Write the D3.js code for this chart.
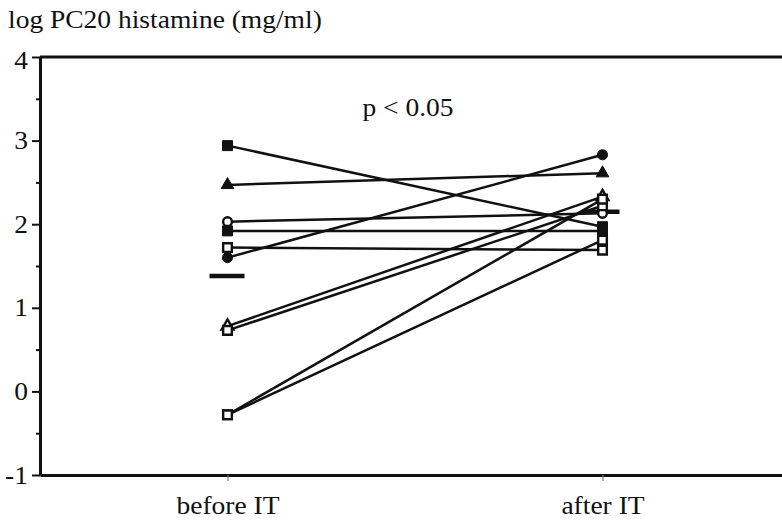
<!DOCTYPE html>
<html>
<head>
<meta charset="utf-8">
<script src="https://cdn.jsdelivr.net/npm/d3@7"></script>
<style>
  body { margin: 0; background: #ffffff; }
  svg { display: block; }
  text { font-family: "Liberation Serif", "Times New Roman", serif; fill: #111111; }
</style>
</head>
<body>
<svg id="chart" width="782" height="524"></svg>
<script>
// Paired log PC20 histamine values per subject, before and after immunotherapy
const phases = ["before IT", "after IT"];
const beforeIT = [2.94, 2.47, 2.03, 1.92, 1.72, 1.60, 0.78, 0.73, -0.28, -0.28];
const afterIT  = [1.97, 2.61, 2.13, 1.92, 1.69, 2.83, 2.33, 2.22, 2.30, 1.81];
const markerShapes = ["square", "triangle", "circleOpen", "square", "squareOpen",
                      "circle", "triangleOpen", "squareOpen", "squareOpen", "squareOpen"];
const groupMeans = [1.38, 2.15];
const yTicks = [-1, 0, 1, 2, 3, 4];
const yMinorTicks = [-0.5, 0.5, 1.5, 2.5, 3.5];
const yTitle = "log PC20 histamine (mg/ml)";
const pLabel = "p < 0.05";

const svg = d3.select("#chart");
const ink = "#111111";
const fontSize = 25;
const stretch = 1.1;   // the typeface is set slightly wide

const x = d3.scalePoint().domain(phases).range([40, 790]).padding(0.5);
const y = d3.scaleLinear().domain([-1, 4]).range([475, 57]);

// frame: top rule
svg.append("line")
  .attr("x1", 40).attr("x2", 790)
  .attr("y1", y(4)).attr("y2", y(4))
  .attr("stroke", ink).attr("stroke-width", 3);

// bottom axis
const gx = svg.append("g")
  .attr("transform", `translate(0,${y(-1)})`)
  .call(d3.axisBottom(x).tickSize(6).tickSizeOuter(0));
gx.attr("font-family", null);
gx.select(".domain").attr("stroke", ink).attr("stroke-width", 3);
gx.selectAll(".tick line").attr("stroke", "#777").attr("stroke-width", 1.2);
gx.selectAll(".tick text")
  .attr("y", null).attr("dy", null)
  .attr("transform", `translate(0,39) scale(${stretch},1)`)
  .attr("font-size", fontSize)
  .attr("fill", ink);

// left axis: minor half-unit ticks, then the labelled ticks
const gyMinor = svg.append("g")
  .attr("transform", "translate(40,0)")
  .call(d3.axisLeft(y).tickValues(yMinorTicks).tickSize(4).tickSizeOuter(0).tickFormat(""));
gyMinor.select(".domain").remove();
gyMinor.selectAll(".tick line").attr("stroke", ink).attr("stroke-width", 2);

const gy = svg.append("g")
  .attr("transform", "translate(40,0)")
  .call(d3.axisLeft(y).tickValues(yTicks).tickSize(8).tickSizeOuter(0).tickFormat(d => String(d)));
gy.attr("font-family", null);
gy.select(".domain").attr("stroke", ink).attr("stroke-width", 3);
gy.selectAll(".tick line").attr("stroke", ink).attr("stroke-width", 2);
gy.selectAll(".tick text")
  .attr("x", null).attr("dy", null)
  .attr("transform", d => `translate(-12,${d === 4 ? 11 : 8}) scale(${stretch},1)`)
  .attr("font-size", fontSize)
  .attr("fill", ink);

// axis title and significance note
svg.append("text")
  .attr("transform", `translate(8,28) scale(${stretch},1)`)
  .attr("font-size", fontSize)
  .text(yTitle);

svg.append("text")
  .attr("transform", `translate(408,116) scale(${stretch},1)`)
  .attr("text-anchor", "middle")
  .attr("font-size", fontSize)
  .text(pLabel);

// subject lines
const subjects = beforeIT.map((b, i) => ({ before: b, after: afterIT[i], shape: markerShapes[i] }));

svg.append("g")
  .selectAll("line")
  .data(subjects)
  .join("line")
  .attr("x1", x(phases[0])).attr("y1", d => y(d.before))
  .attr("x2", x(phases[1])).attr("y2", d => y(d.after))
  .attr("stroke", ink)
  .attr("stroke-width", 2.5);

// group means
svg.append("g")
  .selectAll("line")
  .data(groupMeans)
  .join("line")
  .attr("x1", (d, i) => x(phases[i]) - 18)
  .attr("x2", (d, i) => x(phases[i]) + 17)
  .attr("y1", d => y(d)).attr("y2", d => y(d))
  .attr("stroke", ink)
  .attr("stroke-width", 4.5);

// end-point markers
const symbolFor = {
  square:       { type: d3.symbolSquare,   size: 100, open: false },
  squareOpen:   { type: d3.symbolSquare,   size: 75,  open: true },
  triangle:     { type: d3.symbolTriangle, size: 70,  open: false },
  triangleOpen: { type: d3.symbolTriangle, size: 60,  open: true },
  circle:       { type: d3.symbolCircle,   size: 80,  open: false },
  circleOpen:   { type: d3.symbolCircle,   size: 60,  open: true }
};

const ends = subjects.flatMap(s => [
  { phase: phases[0], value: s.before, shape: s.shape },
  { phase: phases[1], value: s.after, shape: s.shape }
]);

svg.append("g")
  .selectAll("path")
  .data(ends)
  .join("path")
  .attr("transform", d => `translate(${x(d.phase)},${y(d.value)})`)
  .attr("d", d => d3.symbol(symbolFor[d.shape].type, symbolFor[d.shape].size)())
  .attr("fill", d => symbolFor[d.shape].open ? "#ffffff" : ink)
  .attr("stroke", ink)
  .attr("stroke-width", d => symbolFor[d.shape].open ? 2.4 : 1);
</script>
</body>
</html>
